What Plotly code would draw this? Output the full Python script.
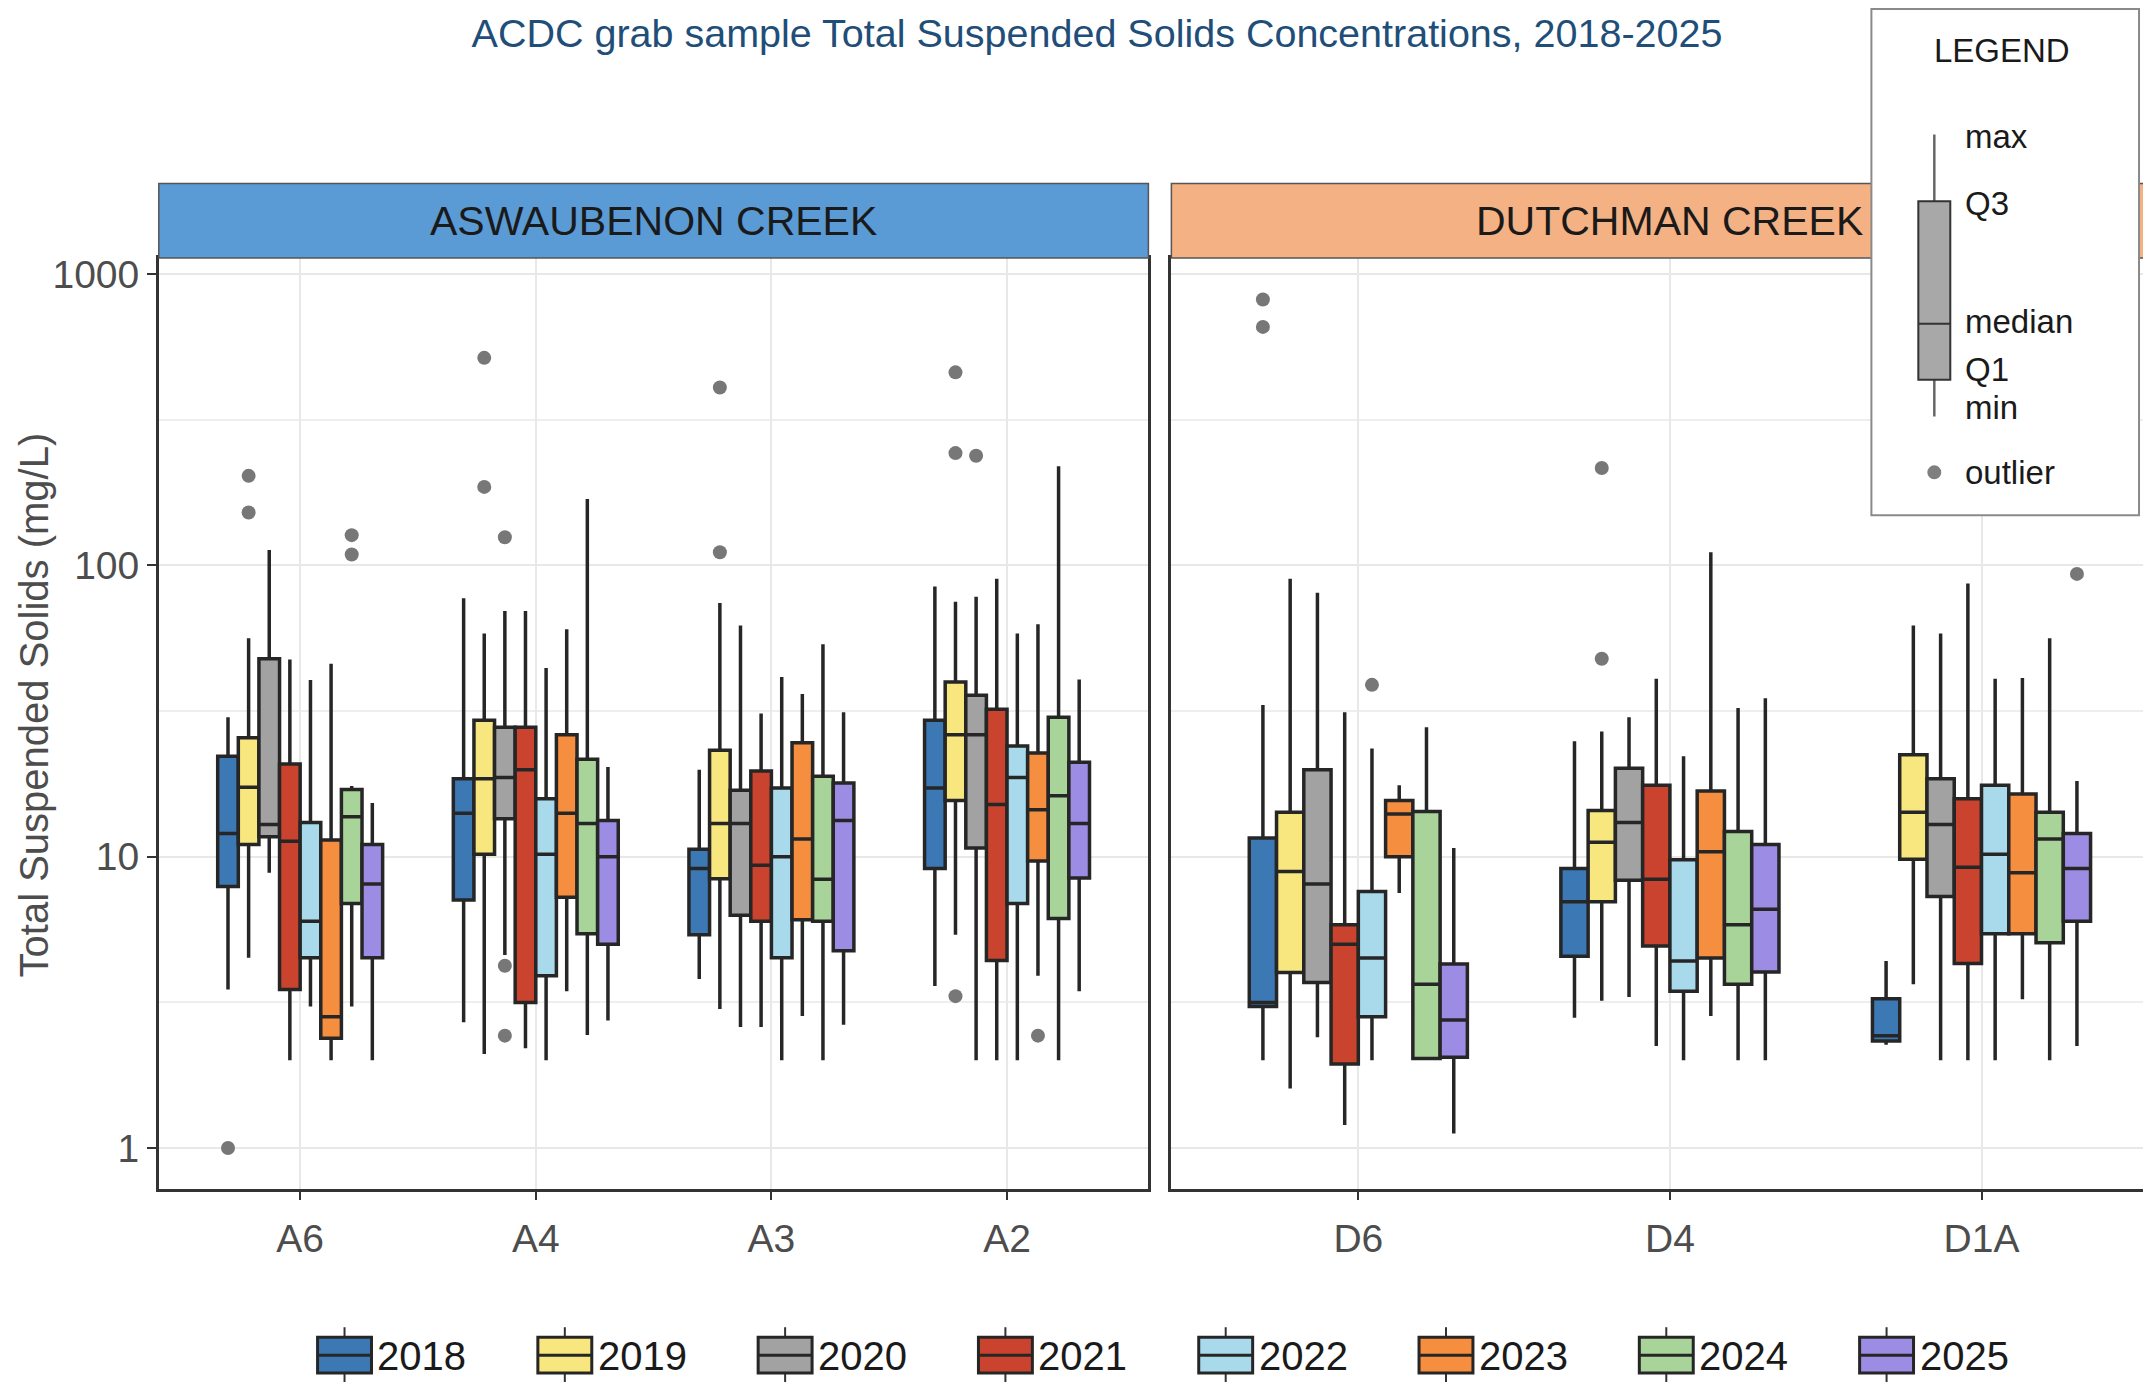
import plotly.graph_objects as go

W, H = 2151, 1382

YEARS = ["2018", "2019", "2020", "2021", "2022", "2023", "2024", "2025"]
COLORS = ["#3b78b4", "#f8e67e", "#a2a2a2", "#c9432f",
          "#a9daec", "#f68e40", "#a8d49a", "#9d8ce3"]
STATIONS_A = ["A6", "A4", "A3", "A2"]
STATIONS_D = ["D6", "D4", "D1A"]

# values per year, station order: A6, A4, A3, A2, D6, D4, D1A  (mg/L)
LOWER = {
    "2018": [3.5, 2.7, 3.8, 3.6, 2.0, 2.8, 2.26],
    "2019": [4.5, 2.1, 3.0, 5.4, 1.6, 3.2, 3.65],
    "2020": [8.8, 4.6, 2.6, 2.0, 2.4, 3.3, 2.0],
    "2021": [2.0, 2.2, 2.6, 2.0, 1.2, 2.24, 2.0],
    "2022": [3.06, 2.0, 2.0, 2.0, 2.0, 2.0, 2.0],
    "2023": [2.0, 3.45, 2.84, 3.9, 7.5, 2.84, 3.24],
    "2024": [3.06, 2.44, 2.0, 2.0, 2.0, 2.0, 2.0],
    "2025": [2.0, 2.74, 2.65, 3.45, 1.12, 2.0, 2.24],
}
Q1 = {
    "2018": [7.9, 7.1, 5.4, 9.1, 3.06, 4.55, 2.33],
    "2019": [11.0, 10.2, 8.4, 15.6, 4.0, 7.0, 9.8],
    "2020": [11.7, 13.5, 6.3, 10.7, 3.7, 8.3, 7.3],
    "2021": [3.5, 3.16, 6.0, 4.4, 1.94, 4.94, 4.3],
    "2022": [4.5, 3.9, 4.5, 6.9, 2.82, 3.45, 5.44],
    "2023": [2.38, 7.25, 6.07, 9.67, 10.0, 4.49, 5.44],
    "2024": [6.9, 5.44, 6.0, 6.13, 2.03, 3.65, 5.06],
    "2025": [4.5, 5.0, 4.75, 8.45, 2.05, 4.02, 6.0],
}
MEDIAN = {
    "2018": [12.0, 14.1, 9.1, 17.2, 3.16, 7.0, 2.43],
    "2019": [17.3, 18.5, 13.0, 26.2, 8.9, 11.2, 14.2],
    "2020": [12.9, 18.7, 13.0, 26.2, 8.06, 13.1, 12.9],
    "2021": [11.3, 19.9, 9.35, 15.1, 5.0, 8.37, 9.2],
    "2022": [6.0, 10.2, 10.0, 18.7, 4.49, 4.38, 10.2],
    "2023": [2.82, 14.1, 11.5, 14.5, 14.0, 10.4, 8.8],
    "2024": [13.7, 13.0, 8.37, 16.2, 3.65, 5.84, 11.5],
    "2025": [8.06, 10.0, 13.3, 13.0, 2.75, 6.6, 9.1],
}
Q3 = {
    "2018": [22.1, 18.5, 10.6, 29.4, 11.6, 9.1, 3.25],
    "2019": [25.6, 29.4, 23.2, 39.8, 14.2, 14.4, 22.4],
    "2020": [47.8, 27.8, 16.9, 35.8, 19.9, 20.1, 18.5],
    "2021": [20.8, 27.8, 19.7, 32.1, 5.84, 17.6, 15.8],
    "2022": [13.1, 15.8, 17.2, 24.0, 7.6, 9.76, 17.6],
    "2023": [11.4, 26.2, 24.6, 22.7, 15.6, 16.8, 16.4],
    "2024": [17.0, 21.6, 18.9, 30.1, 14.3, 12.2, 14.2],
    "2025": [11.0, 13.3, 17.9, 21.1, 4.28, 11.0, 12.0],
}
UPPER = {
    "2018": [30.1, 77.2, 19.9, 84.6, 33.2, 24.9, 4.38],
    "2019": [56.2, 58.4, 74.3, 75.0, 90.0, 26.9, 62.2],
    "2020": [113.0, 69.8, 62.2, 78.0, 80.6, 30.1, 58.4],
    "2021": [47.5, 69.8, 31.0, 90.0, 31.3, 40.8, 86.6],
    "2022": [40.4, 44.4, 41.4, 58.4, 23.5, 22.1, 40.8],
    "2023": [46.0, 60.4, 36.2, 62.8, 17.6, 111.0, 41.1],
    "2024": [17.5, 169.0, 53.6, 219.0, 27.8, 32.4, 56.2],
    "2025": [15.3, 20.3, 31.3, 40.6, 10.7, 35.0, 18.2],
}
OUTLIERS = {
    "2018": [[1.0], [], [], [], [818, 659], [], []],
    "2019": [[203, 152], [516, 186], [408, 111], [460, 243, 3.32], [], [216, 47.8], []],
    "2020": [[], [125, 4.22, 2.43], [], [238], [], [], []],
    "2021": [[], [], [], [], [], [], []],
    "2022": [[], [], [], [], [38.9], [], []],
    "2023": [[], [], [], [2.43], [], [], []],
    "2024": [[127, 109], [], [], [], [], [], []],
    "2025": [[], [], [], [], [], [], [93.5]],
}

# the page body adds an 8px offset; positions below are window pixels
OFF = 8


def fx(x):
    return (x - OFF) / W


def fy(y):
    return 1 - (y - OFF) / H


FONT = "Liberation Sans, Arial, sans-serif"
EDGE = "#262626"

fig = go.Figure()

panels = [
    (STATIONS_A, slice(0, 4), "x", "y", "A"),
    (STATIONS_D, slice(4, 7), "x2", "y2", "D"),
]
for i, yr in enumerate(YEARS):
    for stations, sl, xa, ya, grp in panels:
        # empty sample rows confuse the 2D sample detection, use a blank entry
        pts = [p if p else [None] for p in OUTLIERS[yr][sl]]
        fig.add_trace(
            go.Box(
                x=stations,
                y=pts,
                q1=Q1[yr][sl],
                median=MEDIAN[yr][sl],
                q3=Q3[yr][sl],
                lowerfence=LOWER[yr][sl],
                upperfence=UPPER[yr][sl],
                name=yr,
                offsetgroup=yr,
                alignmentgroup=grp,
                fillcolor=COLORS[i],
                line=dict(color=EDGE, width=3.5),
                whiskerwidth=0,
                boxpoints="outliers",
                jitter=0,
                pointpos=0,
                marker=dict(color="#777777", size=14, line=dict(width=0)),
                showlegend=False,
                xaxis=xa,
                yaxis=ya,
            )
        )

axis_common = dict(
    showline=True, mirror=True, linecolor="#333333", linewidth=2.5,
    ticks="outside", ticklen=9, tickwidth=2, tickcolor="#333333",
    showgrid=True, gridcolor="#e8e8e8", gridwidth=2, zeroline=False,
    tickfont=dict(family=FONT, size=39, color="#4d4d4d"),
)
yaxis_common = dict(
    type="log", range=[-0.14, 3.055],
    domain=[fy(1188), fy(254)],
    tickvals=[1, 10, 100, 1000], ticktext=["1", "10", "100", "1000"],
    minor=dict(tickvals=[3.162, 31.62, 316.2], showgrid=True,
               gridcolor="#eeeeee", gridwidth=1.5, ticks=""),
)

fig.update_layout(
    width=W, height=H,
    margin=dict(l=0, r=0, t=0, b=0),
    paper_bgcolor="white", plot_bgcolor="white",
    boxmode="group", boxgap=0.3, boxgroupgap=0,
    font=dict(family=FONT, color="#1a1a1a"),
    title=dict(
        text="ACDC grab sample Total Suspended Solids Concentrations, 2018-2025",
        font=dict(family=FONT, size=39.5, color="#1f4e79"),
        x=fx(1097), y=fy(33), xanchor="center", yanchor="middle",
    ),
    xaxis=dict(axis_common, type="category", domain=[fx(159), fx(1150)],
               range=[-0.6, 3.6], anchor="y", ticklabelstandoff=5),
    yaxis=dict(axis_common, **yaxis_common, anchor="x"),
    xaxis2=dict(axis_common, type="category", domain=[fx(1173), 1.0],
                range=[-0.6, 2.56], anchor="y2", ticklabelstandoff=5),
    yaxis2=dict(axis_common, **yaxis_common, anchor="x2", matches="y",
                showticklabels=False, ticks=""),
    showlegend=False,
)

shapes = []
annotations = []

# facet strips
for x0, x1, color, label in [(159, 1150, "#5b9bd5", "ASWAUBENON CREEK"),
                             (1173, 2170, "#f4b183", "DUTCHMAN CREEK")]:
    shapes.append(dict(type="rect", xref="paper", yref="paper",
                       x0=fx(x0), x1=fx(x1), y0=fy(254), y1=fy(179),
                       fillcolor=color, line=dict(color="#555555", width=1.5)))
    annotations.append(dict(xref="paper", yref="paper", x=fx((x0 + x1) / 2), y=fy(217),
                            text=label, showarrow=False, xanchor="center", yanchor="middle",
                            font=dict(family=FONT, size=41, color="#1a1a1a")))

# y axis title
annotations.append(dict(xref="paper", yref="paper", x=fx(35), y=fy(702),
                        text="Total Suspended Solids (mg/L)", textangle=-90,
                        showarrow=False, xanchor="center", yanchor="middle",
                        font=dict(family=FONT, size=40, color="#4d4d4d")))

# inset legend explaining the box
shapes.append(dict(type="rect", xref="paper", yref="paper",
                   x0=fx(1874), x1=fx(2142), y0=fy(512), y1=fy(4),
                   fillcolor="white", line=dict(color="#8a8a8a", width=2)))
shapes.append(dict(type="line", xref="paper", yref="paper",
                   x0=fx(1937), x1=fx(1937), y0=fy(130), y1=fy(413),
                   line=dict(color="#666666", width=2.5)))
shapes.append(dict(type="rect", xref="paper", yref="paper",
                   x0=fx(1921), x1=fx(1953), y0=fy(376), y1=fy(197),
                   fillcolor="#a8a8a8", line=dict(color="#333333", width=2)))
shapes.append(dict(type="line", xref="paper", yref="paper",
                   x0=fx(1921), x1=fx(1953), y0=fy(320), y1=fy(320),
                   line=dict(color="#333333", width=2)))
shapes.append(dict(type="circle", xref="paper", yref="paper",
                   x0=fx(1930), x1=fx(1944), y0=fy(476), y1=fy(462),
                   fillcolor="#7f7f7f", line=dict(width=0)))
annotations.append(dict(xref="paper", yref="paper", x=fx(2005), y=fy(46), text="LEGEND",
                        showarrow=False, xanchor="center", yanchor="middle",
                        font=dict(family=FONT, size=33, color="#1a1a1a")))
for txt, yy in [("max", 132), ("Q3", 199), ("median", 318), ("Q1", 366),
                ("min", 404), ("outlier", 469)]:
    annotations.append(dict(xref="paper", yref="paper", x=fx(1966), y=fy(yy), text=txt,
                            showarrow=False, xanchor="left", yanchor="middle",
                            font=dict(family=FONT, size=33, color="#1a1a1a")))

# bottom legend for years
for i, yr in enumerate(YEARS):
    bx = 318 + 220.6 * i
    shapes.append(dict(type="line", xref="paper", yref="paper",
                       x0=fx(bx + 27), x1=fx(bx + 27), y0=fy(1390), y1=fy(1327),
                       line=dict(color="#333333", width=2)))
    shapes.append(dict(type="rect", xref="paper", yref="paper",
                       x0=fx(bx), x1=fx(bx + 54), y0=fy(1373), y1=fy(1337),
                       fillcolor=COLORS[i], line=dict(color=EDGE, width=3)))
    shapes.append(dict(type="line", xref="paper", yref="paper",
                       x0=fx(bx), x1=fx(bx + 54), y0=fy(1355), y1=fy(1355),
                       line=dict(color=EDGE, width=3)))
    annotations.append(dict(xref="paper", yref="paper", x=fx(bx + 58), y=fy(1356), text=yr,
                            showarrow=False, xanchor="left", yanchor="middle",
                            font=dict(family=FONT, size=40, color="#1a1a1a")))

fig.update_layout(shapes=shapes, annotations=annotations)

fig.write_html("out.html")
